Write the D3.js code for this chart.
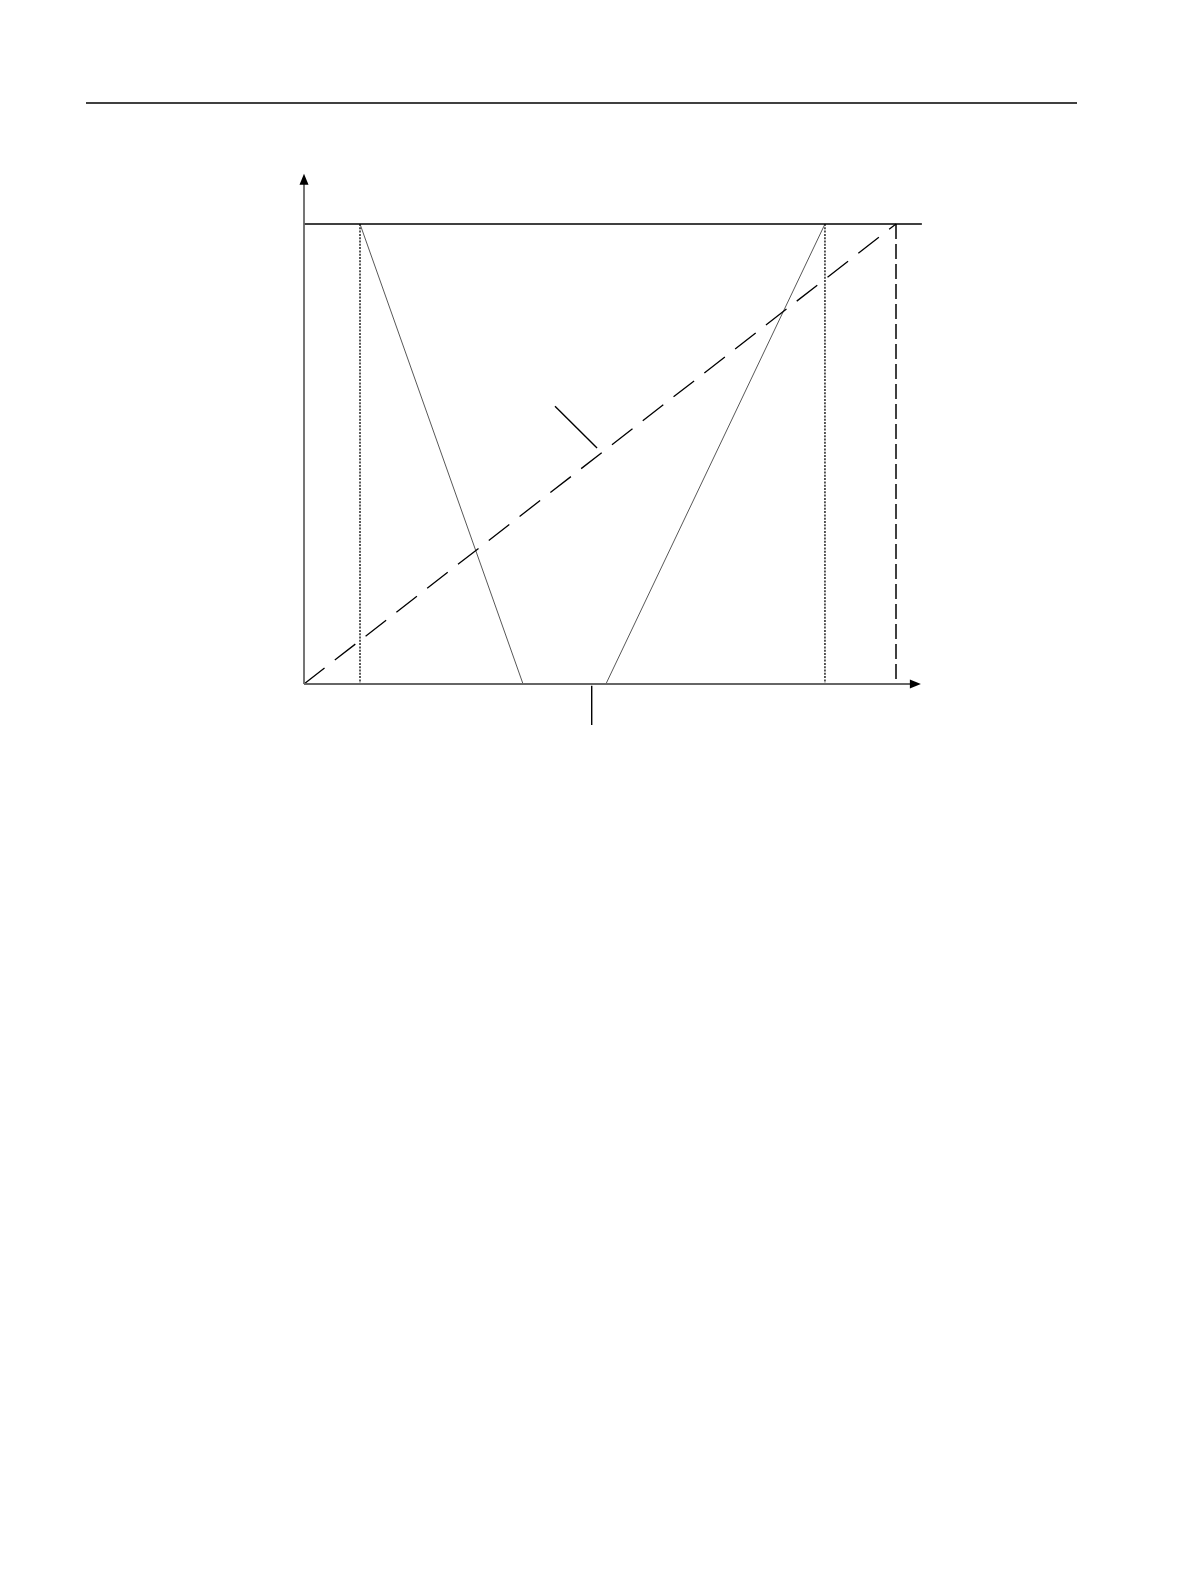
<!DOCTYPE html>
<html>
<head>
<meta charset="utf-8">
<script src="https://cdn.jsdelivr.net/npm/d3@7"></script>
<style>
  html, body { margin: 0; padding: 0; background: #fff; }
  svg { display: block; }
</style>
</head>
<body>
<svg id="chart" width="1191" height="1587"></svg>
<script>
// ---- data (chart units: x and y both 0..100 between origin and the upper bound line) ----
const axisExtent = { xMax: 104.2, yMax: 110.9 };
const upperLevel = 100;                       // horizontal limit line
const dottedVerticals = [9.46, 88.0];          // dotted guide positions
const dashedVerticalX = [100];                 // dashed guide position
const diagonalLine = [[0, 0], [100, 100]];     // dashed diagonal
const leftFlank = [[9.46, 100], [37.0, 0]];    // thin solid falling line
const rightFlank = [[51.0, 0], [88.0, 100]];   // thin solid rising line
const leaderDiagonal = [[42.4, 60.4], [49.5, 51.3]];
const leaderBottom = [[48.6, -0.4], [48.6, -8.9]];

const svg = d3.select("#chart");

// page header rule
svg.append("line")
  .attr("x1", 86).attr("x2", 1077).attr("y1", 103).attr("y2", 103)
  .attr("stroke", "#000").attr("stroke-width", 1.3);

const x = d3.scaleLinear().domain([0, 100]).range([304, 896]);
const y = d3.scaleLinear().domain([0, 100]).range([684, 224]);

const g = svg.append("g");
const line = d3.line().x(d => x(d[0])).y(d => y(d[1]));

// dotted verticals
g.selectAll(".dot").data(dottedVerticals).enter().append("line")
  .attr("x1", d => x(d)).attr("x2", d => x(d))
  .attr("y1", y(upperLevel)).attr("y2", y(0))
  .attr("stroke", "#000").attr("stroke-width", 1.3)
  .attr("stroke-dasharray", "2,1.3");

// dashed vertical
g.selectAll(".dv").data(dashedVerticalX).enter().append("line")
  .attr("x1", d => x(d)).attr("x2", d => x(d))
  .attr("y1", y(upperLevel)).attr("y2", y(0))
  .attr("stroke", "#000").attr("stroke-width", 1.5)
  .attr("stroke-dasharray", "15,5");

// thin flanks
[leftFlank, rightFlank].forEach(p => {
  g.append("path").attr("d", line(p))
    .attr("fill", "none").attr("stroke", "#444").attr("stroke-width", 0.9);
});

// dashed diagonal
g.append("path").attr("d", line(diagonalLine))
  .attr("fill", "none").attr("stroke", "#000").attr("stroke-width", 1.3)
  .attr("stroke-dasharray", "26,13");

// upper limit line
g.append("line")
  .attr("x1", x(0)).attr("x2", x(axisExtent.xMax) + 1)
  .attr("y1", y(upperLevel)).attr("y2", y(upperLevel))
  .attr("stroke", "#000").attr("stroke-width", 1.4);

// leaders
[leaderDiagonal, leaderBottom].forEach(p => {
  g.append("path").attr("d", line(p))
    .attr("fill", "none").attr("stroke", "#000").attr("stroke-width", 1.4);
});

// axes
const axisColor = "#666";
g.append("line")
  .attr("x1", x(0)).attr("x2", x(0))
  .attr("y1", y(0)).attr("y2", y(axisExtent.yMax) + 10)
  .attr("stroke", axisColor).attr("stroke-width", 1.8);
g.append("line")
  .attr("x1", x(0)).attr("x2", x(axisExtent.xMax) - 10)
  .attr("y1", y(0)).attr("y2", y(0))
  .attr("stroke", axisColor).attr("stroke-width", 1.8);

// arrowheads
const yt = [x(0), y(axisExtent.yMax)];
g.append("path")
  .attr("d", `M${yt[0]},${yt[1]} L${yt[0]-4.5},${yt[1]+11} L${yt[0]+4.5},${yt[1]+11} Z`)
  .attr("fill", "#000");
const xt = [x(axisExtent.xMax), y(0)];
g.append("path")
  .attr("d", `M${xt[0]},${xt[1]} L${xt[0]-11},${xt[1]-4.5} L${xt[0]-11},${xt[1]+4.5} Z`)
  .attr("fill", "#000");
</script>
</body>
</html>
